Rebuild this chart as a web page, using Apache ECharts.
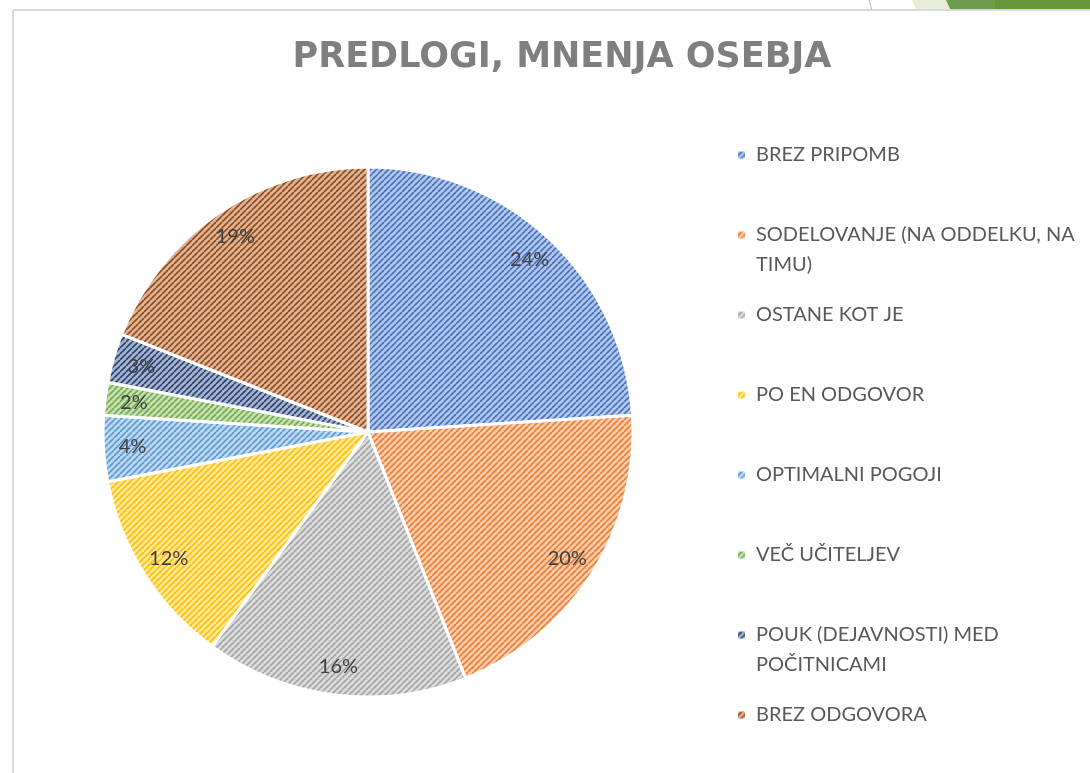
<!DOCTYPE html>
<html>
<head>
<meta charset="utf-8">
<script src="https://cdn.jsdelivr.net/npm/echarts@6/dist/echarts.min.js"></script>
<style>
  html, body { margin: 0; padding: 0; background: #fff; }
  #chart { width: 1090px; height: 773px; }
</style>
</head>
<body>
<div id="chart"></div>
<script>
'use strict';

// podatki
var categories = ['BREZ PRIPOMB', 'SODELOVANJE (NA ODDELKU, NA TIMU)', 'OSTANE KOT JE', 'PO EN ODGOVOR',
    'OPTIMALNI POGOJI', 'VEČ UČITELJEV', 'POUK (DEJAVNOSTI) MED POČITNICAMI', 'BREZ ODGOVORA'];
var values = [24, 20, 16, 12, 4, 2, 3, 19];
var wrapped = ['SODELOVANJE (NA ODDELKU, NA TIMU)', 'POUK (DEJAVNOSTI) MED POČITNICAMI'];

var baseColors = ['#4472C4', '#ED7D31', '#A5A5A5', '#FFC000', '#5B9BD5', '#70AD47', '#264478', '#9E480E'];

function tint(hex, k) {
    var r = parseInt(hex.substr(1, 2), 16), g = parseInt(hex.substr(3, 2), 16), b = parseInt(hex.substr(5, 2), 16);
    r = Math.round(r + (255 - r) * k); g = Math.round(g + (255 - g) * k); b = Math.round(b + (255 - b) * k);
    return 'rgb(' + r + ',' + g + ',' + b + ')';
}

// srafura (diagonalne crte)
function hatch(base) {
    var c = document.createElement('canvas');
    c.width = 6; c.height = 6;
    var ctx = c.getContext('2d');
    ctx.fillStyle = tint(base, 0.6);
    ctx.fillRect(0, 0, 6, 6);
    ctx.strokeStyle = base;
    ctx.lineWidth = 1.6;
    ctx.beginPath();
    for (var k = -6; k <= 6; k += 6) {
        ctx.moveTo(k, 6);
        ctx.lineTo(k + 6, 0);
    }
    ctx.stroke();
    return { image: c, repeat: 'repeat' };
}

var chart = echarts.init(document.getElementById('chart'));

var pieData = categories.map(function (name, i) {
    return { name: name, value: values[i], itemStyle: { color: hatch(baseColors[i]) } };
});
var labelData = categories.map(function (name, i) {
    return { name: name, value: values[i] };
});

var option = {
    backgroundColor: '#fff',
    animation: false,
    title: {
        text: 'PREDLOGI, MNENJA OSEBJA',
        left: 557,
        top: 35,
        textAlign: 'center',
        textStyle: {
            fontFamily: 'DejaVu Sans',
            fontWeight: 'bold',
            fontSize: 35,
            color: '#7f7f7f'
        }
    },
    legend: {
        orient: 'vertical',
        left: 736,
        top: 110,
        padding: 0,
        icon: 'rect',
        itemWidth: 9,
        itemHeight: 9,
        itemGap: -10,
        selectedMode: false,
        data: categories,
        // vse postavke trivrsticne (prva vrstica prazna), da je ikona ob prvi vrstici besedila
        formatter: function (name) {
            return wrapped.indexOf(name) >= 0 ? ' \n' + name : ' \n' + name + '\n ';
        },
        textStyle: {
            fontFamily: 'Lato',
            fontSize: 20,
            color: '#595959',
            lineHeight: 30,
            width: 345,
            overflow: 'break',
            padding: [0, 0, 0, 5]
        }
    },
    graphic: [
        { type: 'line', shape: { x1: 13, y1: 10, x2: 1090, y2: 10 }, style: { stroke: '#d9d9d9', lineWidth: 2 } },
        { type: 'line', shape: { x1: 13, y1: 10, x2: 13, y2: 773 }, style: { stroke: '#d9d9d9', lineWidth: 2 } },
        { type: 'line', shape: { x1: 869, y1: 0, x2: 872, y2: 10 }, style: { stroke: '#bfbfbf', lineWidth: 1 } },
        { type: 'polygon', shape: { points: [[912, 0], [946, 0], [950, 9], [916, 9]] }, style: { fill: '#e4eed6' } },
        { type: 'polygon', shape: { points: [[946, 0], [995, 0], [995, 9], [950, 9]] }, style: { fill: '#6c9c4c' } },
        { type: 'rect', shape: { x: 995, y: 0, width: 95, height: 9 }, style: { fill: '#63973a' } }
    ],
    series: [{
        name: 'PREDLOGI, MNENJA OSEBJA',
        type: 'pie',
        center: [368, 432],
        radius: [0, 265],
        startAngle: 90,
        clockwise: true,
        label: { show: false },
        labelLine: { show: false },
        emphasis: { disabled: true },
        itemStyle: { borderColor: '#fff', borderWidth: 3 },
        data: pieData
    }, {
        name: 'oznake',
        type: 'pie',
        center: [368, 432],
        radius: [201, 265],
        startAngle: 90,
        clockwise: true,
        silent: true,
        itemStyle: { color: 'rgba(0,0,0,0)' },
        label: {
            show: true,
            position: 'inside',
            formatter: '{c}%',
            fontFamily: 'Lato',
            fontSize: 20,
            color: '#404040'
        },
        labelLine: { show: false },
        data: labelData
    }]
};

chart.setOption(option);
</script>
</body>
</html>
